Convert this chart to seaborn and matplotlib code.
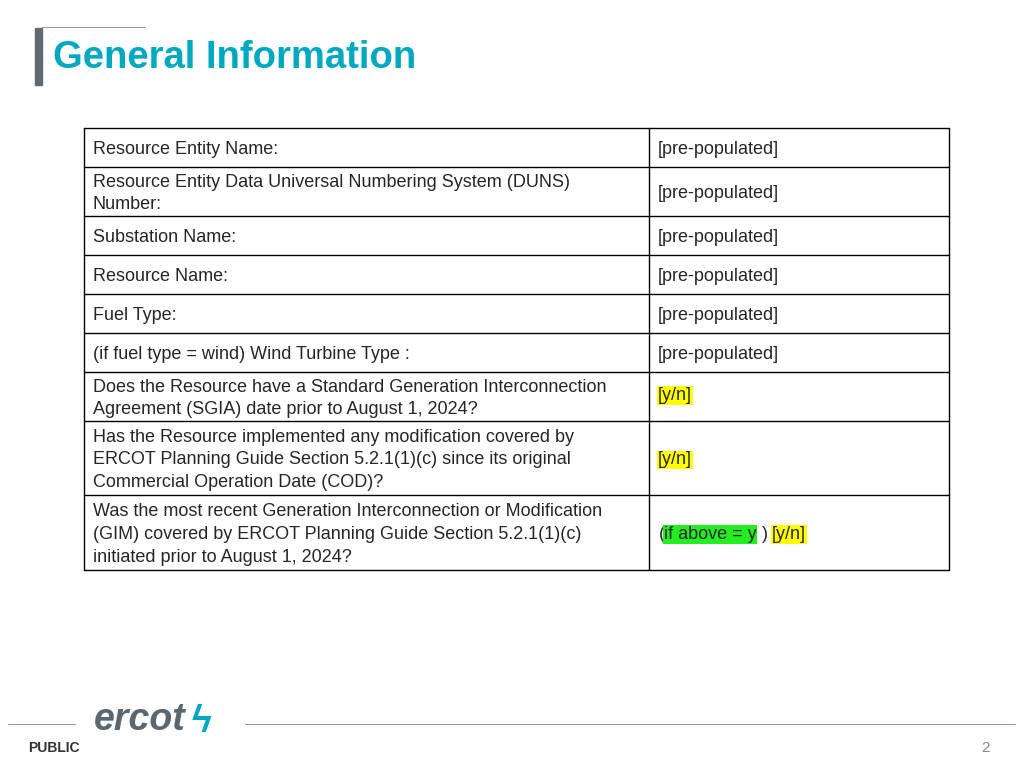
import matplotlib.pyplot as plt
import seaborn as sns

sns.set_style("white")
plt.rcParams["font.family"] = "Liberation Sans"

title = "General Information"
row_labels = [
    "Resource Entity Name:",
    "Resource Entity Data Universal Numbering System (DUNS)\nNumber:",
    "Substation Name:",
    "Resource Name:",
    "Fuel Type:",
    "(if fuel type = wind) Wind Turbine Type :",
    "Does the Resource have a Standard Generation Interconnection\nAgreement (SGIA) date prior to August 1, 2024?",
    "Has the Resource implemented any modification covered by\nERCOT Planning Guide Section 5.2.1(1)(c) since its original\nCommercial Operation Date (COD)?",
    "Was the most recent Generation Interconnection or Modification\n(GIM) covered by ERCOT Planning Guide Section 5.2.1(1)(c)\ninitiated prior to August 1, 2024?",
]
row_values = ["[pre-populated]"] * 6 + ["[y/n]", "[y/n]", None]
row_edges = [128, 167, 216, 255, 294, 333, 372, 421, 495, 570]

teal = "#00A9C0"
grey = "#5B6770"

fig = plt.figure(figsize=(10.24, 7.68), dpi=100)
ax = fig.add_axes([0, 0, 1, 1])
ax.set_xlim(0, 1024)
ax.set_ylim(768, 0)
ax.axis("off")

# header
ax.plot([42, 145], [27, 27], color="#9a9a9a", lw=0.8)
ax.fill_between([35, 42], 28, 85, color="#5f6a72")
ax.text(53, 58, title, color=teal, fontsize=27.5, fontweight="bold", va="center")

# table
x0, xm, x1 = 84, 649, 949
for y in row_edges:
    ax.plot([x0, x1], [y, y], color="black", lw=1)
for x in (x0, xm, x1):
    ax.plot([x, x], [row_edges[0], row_edges[-1]], color="black", lw=1)

fs = 13
for i, (lab, val) in enumerate(zip(row_labels, row_values)):
    top, bot = row_edges[i], row_edges[i + 1]
    yc = (top + bot) / 2 + 2
    ax.text(93, yc, lab, fontsize=fs, va="center", linespacing=1.45)
    if val is None:
        ax.text(659, yc, "(", fontsize=fs, va="center")
        ax.text(664, yc, "if above = y", fontsize=fs, va="center",
                bbox=dict(facecolor="#22EE22", edgecolor="none", pad=0.5))
        ax.text(762, yc, ")", fontsize=fs, va="center")
        ax.text(772, yc, "[y/n]", fontsize=fs, va="center",
                bbox=dict(facecolor="#FFFF00", edgecolor="none", pad=0.5))
    elif val == "[y/n]":
        ax.text(658, yc - (3 if i == 6 else 0), val, fontsize=fs, va="center",
                bbox=dict(facecolor="#FFFF00", edgecolor="none", pad=0.5))
    else:
        ax.text(658, yc, val, fontsize=fs, va="center")

# footer
ax.plot([8, 75], [724, 724], color="#9a9a9a", lw=0.8)
ax.plot([245, 1015], [724, 724], color="#9a9a9a", lw=0.8)
ax.text(94, 720, "ercot", color=grey, fontsize=27, fontstyle="italic",
        fontweight="bold", va="center")
ax.text(192, 722, "ϟ", color=teal, fontsize=27, fontweight="bold", va="center")
ax.text(28, 748, "PUBLIC", color="#333333", fontsize=10, fontweight="bold", va="center")
ax.text(990, 748, "2", color="#888888", fontsize=11, va="center", ha="right")

fig.savefig("out.png", dpi=100)
